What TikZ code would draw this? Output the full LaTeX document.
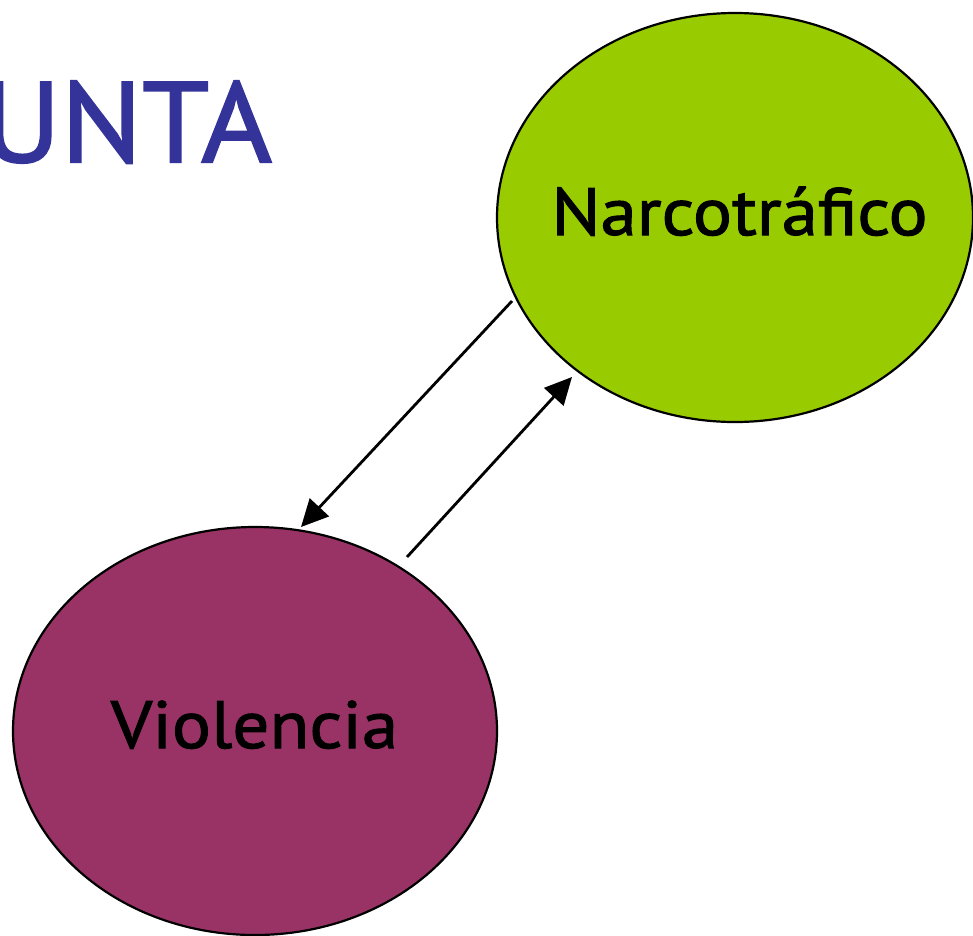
\documentclass[tikz,border=0pt]{standalone}
\usepackage{fontspec}
\setmainfont{PT Sans}
\newfontfamily\lblfont{PT Sans}[FakeBold=1.6, FakeStretch=1.09]
\newfontfamily\ttlfont{PT Sans}[FakeBold=1.8, FakeStretch=1.06]
\usetikzlibrary{shapes.geometric,arrows.meta}
\definecolor{narco}{HTML}{99CC00}
\definecolor{viol}{HTML}{993366}
\definecolor{titleblue}{HTML}{333399}
\tikzset{
  bubble/.style={ellipse, draw=black, line width=2.2pt, inner sep=0pt},
  bubbletext/.style={anchor=base, inner sep=0pt, font=\lblfont\fontsize{67}{80}\selectfont},
  link/.style={line width=2.8pt, -{Triangle[length=27pt,width=26pt]}}
}
\begin{document}
\begin{tikzpicture}[x=1pt,y=-1pt]
\useasboundingbox (0,0) rectangle (973,935);
\node[anchor=base east, inner sep=0pt, text=titleblue, font=\ttlfont\fontsize{114}{130}\selectfont] (title) at (272,162) {UNTA};
\node[bubble, fill=narco, minimum width=476pt, minimum height=409pt] (N) at (735,217.5) {};
\node[bubble, fill=viol, minimum width=484pt, minimum height=408pt] (V) at (255,731) {};
\node[bubbletext] (Nt) at (739.5,235) {Narcotráfico};
\node[bubbletext] (Vt) at (254.5,748) {Violencia};
\coordinate (n1) at (512,301);
\coordinate (v1) at (301,527);
\coordinate (v2) at (407,557);
\coordinate (n2) at (572,377);
\draw[link] (n1) -- (v1);
\draw[link] (v2) -- (n2);
\end{tikzpicture}
\end{document}
